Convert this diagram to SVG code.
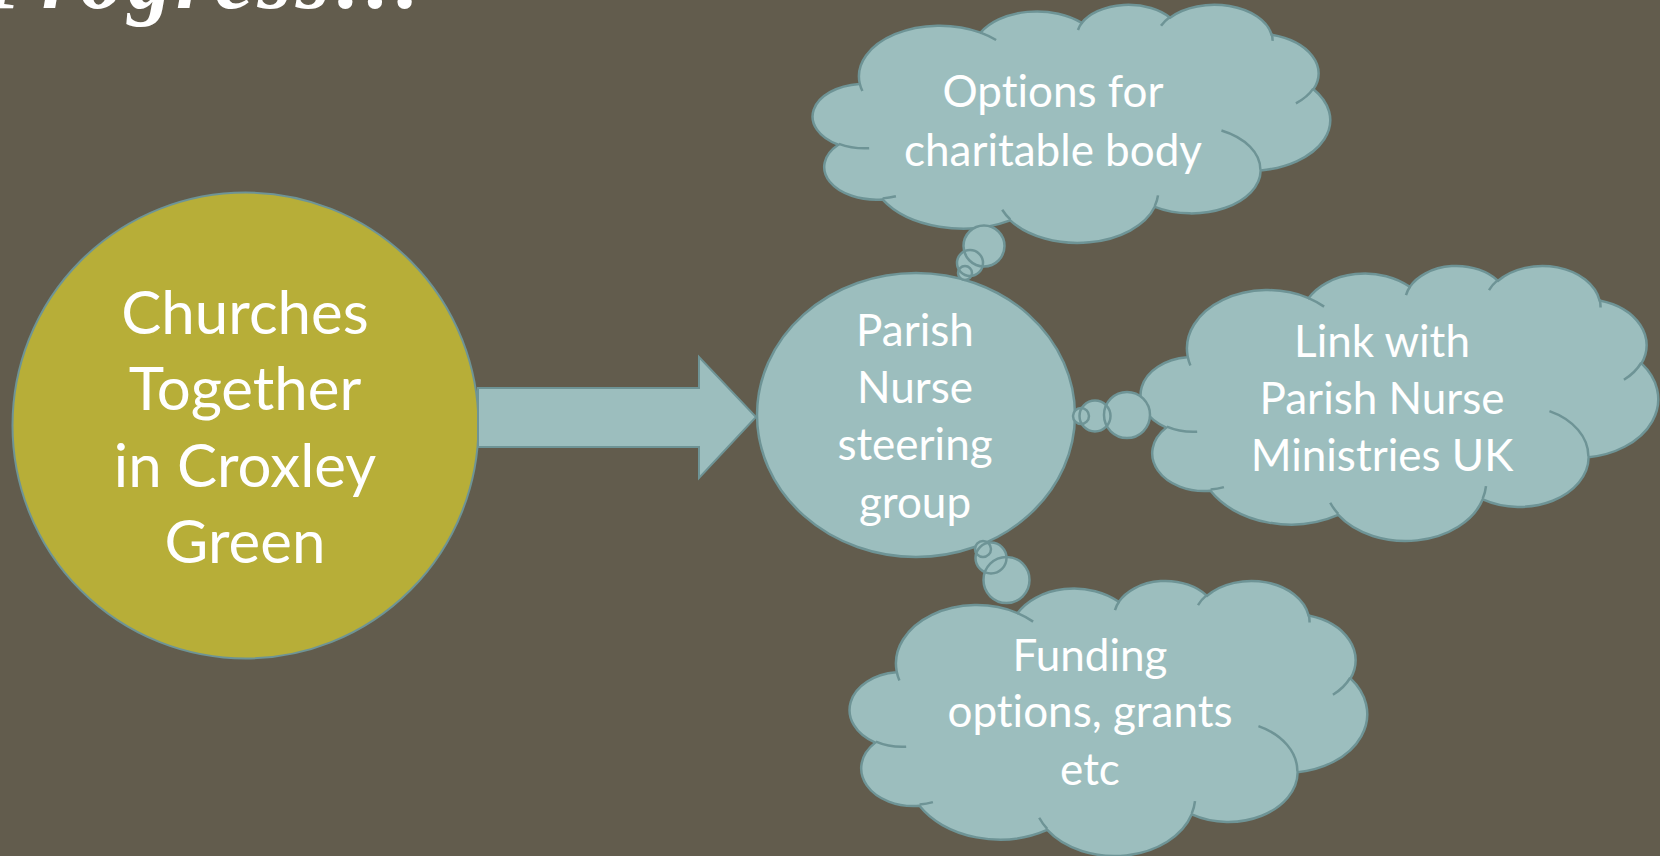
<svg xmlns="http://www.w3.org/2000/svg" xmlns:xlink="http://www.w3.org/1999/xlink" width="1660" height="856" viewBox="0 0 1660 856">
<style>
.cl{fill:#9CBEBE;stroke:#6E9496;stroke-width:2.5}
.in{fill:none;stroke:#6E9496;stroke-width:2.5}
.bf{fill:#9CBEBE;stroke:none}
.bs{fill:none;stroke:#6E9496;stroke-width:2.5}
.t{fill:#FFFFFF;font-family:Lato,"Open Sans","Liberation Sans",sans-serif;text-anchor:middle;font-variant-ligatures:none}
.m{font-size:44px}
</style>
<defs>
<path id="cloudOuter" vector-effect="non-scaling-stroke" d="M3900 14370 A6753 9190 0 0 1 14005 5201 A5333 7267 0 0 1 22455 3432 A4365 5945 0 0 1 29832 2480 A4857 6595 0 0 1 38318 5575 A5333 7273 0 0 1 41818 15459 A6775 9220 0 0 1 37404 30203 A5785 7867 0 0 1 28556 36813 A6752 9215 0 0 1 16480 39264 A7720 10543 0 0 1 5805 35470 A4360 5918 0 0 1 2113 25548 A4345 5945 0 0 1 3863 14504 Z"/>
<path id="cloudInner" vector-effect="non-scaling-stroke" d="M4693 26177 A4345 5945 0 0 1 2160 25380 M6928 34899 A4360 5918 0 0 1 5819 35281 M16478 39090 A6752 9215 0 0 1 15810 37350 M28827 34751 A6752 9215 0 0 1 28560 36660 M34129 22954 A5785 7867 0 0 1 37380 30090 M41798 15354 A5333 7273 0 0 1 40350 18030 M38324 5426 A4857 6595 0 0 1 38400 6690 M29078 3952 A4857 6595 0 0 1 29820 2340 M22141 4720 A4365 5945 0 0 1 22500 3330 M14000 5192 A6753 9190 0 0 1 15300 6541 M4127 15789 A6753 9190 0 0 1 3900 14370"/>
</defs>
<rect x="0" y="0" width="1660" height="856" fill="#625C4D"/>
<text x="-16" y="8" fill="#FFFFFF" font-family="'Liberation Serif',serif" font-style="italic" font-weight="bold" font-size="88" textLength="438" lengthAdjust="spacing">Progress…</text>

<g id="churches">
<circle cx="245.5" cy="425.5" r="233" fill="#B7AE38" stroke="#6E9496" stroke-width="2"/>
<text class="t" font-size="60"><tspan x="245" y="334">Churches</tspan><tspan x="245" y="410">Together</tspan><tspan x="245" y="487">in Croxley</tspan><tspan x="245" y="563">Green</tspan></text>
</g>

<g id="connectors">
<polygon points="478,388 699,388 699,357 756,417 699,478 699,447 478,447" fill="#9CBEBE" stroke="#6E9496" stroke-width="2"/>
</g>

<g id="steering">
<ellipse cx="916" cy="415" rx="159" ry="142" fill="#9CBEBE" stroke="#6E9496" stroke-width="2.5"/>
<text class="t m"><tspan x="915" y="346">Parish</tspan><tspan x="915" y="403">Nurse</tspan><tspan x="915" y="460">steering</tspan><tspan x="915" y="518">group</tspan></text>
</g>

<g id="charitable">
<g transform="translate(813 4) scale(0.011968 0.0055093)">
<use xlink:href="#cloudOuter" class="cl"/>
<use xlink:href="#cloudInner" class="in"/>
</g>
<circle class="bf" cx="984" cy="246" r="20.5"/><circle class="bf" cx="970" cy="263" r="13"/><circle class="bf" cx="965" cy="273" r="7"/>
<circle class="bs" cx="984" cy="246" r="20.5"/><circle class="bs" cx="970" cy="263" r="13"/><circle class="bs" cx="965" cy="273" r="7"/>
<text class="t m"><tspan x="1053" y="107">Options for</tspan><tspan x="1053" y="166">charitable body</tspan></text>
</g>

<g id="pnm">
<g transform="translate(1141 265) scale(0.011968 0.0063657)">
<use xlink:href="#cloudOuter" class="cl"/>
<use xlink:href="#cloudInner" class="in"/>
</g>
<circle class="bf" cx="1127" cy="415" r="23"/><circle class="bf" cx="1095" cy="416" r="15.5"/><circle class="bf" cx="1081" cy="416" r="8"/>
<circle class="bs" cx="1127" cy="415" r="23"/><circle class="bs" cx="1095" cy="416" r="15.5"/><circle class="bs" cx="1081" cy="416" r="8"/>
<text class="t m"><tspan x="1382" y="357">Link with</tspan><tspan x="1382" y="414">Parish Nurse</tspan><tspan x="1382" y="471">Ministries UK</tspan></text>
</g>

<g id="funding">
<g transform="translate(850 580) scale(0.011968 0.0063657)">
<use xlink:href="#cloudOuter" class="cl"/>
<use xlink:href="#cloudInner" class="in"/>
</g>
<circle class="bf" cx="1006.5" cy="580" r="23"/><circle class="bf" cx="991" cy="558" r="15.5"/><circle class="bf" cx="983" cy="549" r="8"/>
<circle class="bs" cx="1006.5" cy="580" r="23"/><circle class="bs" cx="991" cy="558" r="15.5"/><circle class="bs" cx="983" cy="549" r="8"/>
<text class="t m"><tspan x="1090" y="671">Funding</tspan><tspan x="1090" y="727">options, grants</tspan><tspan x="1090" y="785">etc</tspan></text>
</g>
</svg>
